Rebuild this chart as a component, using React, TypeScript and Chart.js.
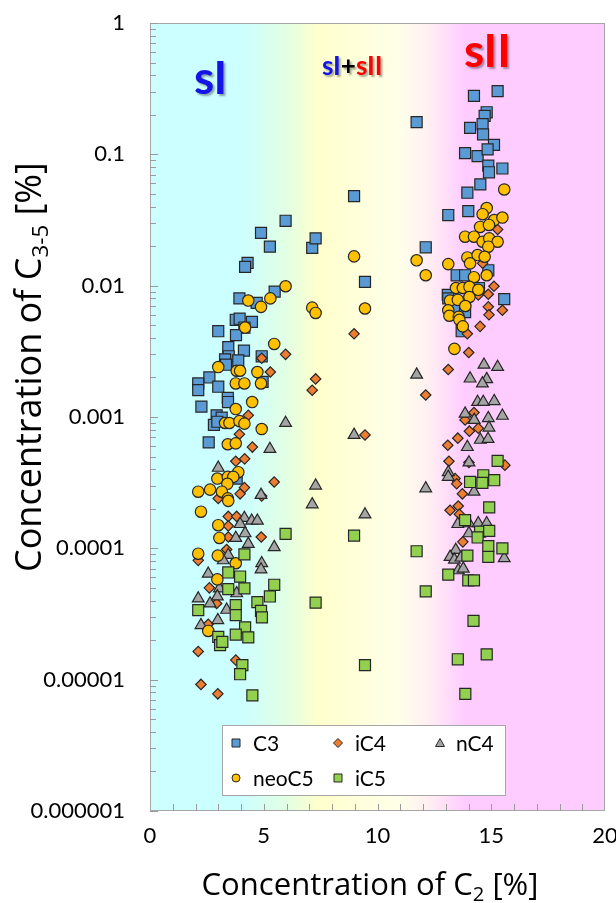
import React, { useEffect, useRef } from 'react';
import { Chart, registerables } from 'chart.js';
Chart.register(...registerables);

const FONT = 'Lato, "Open Sans", sans-serif';
const TITLE_FONT = '"Open Sans", Lato, sans-serif';

// ---- data (x: C2 %, y: C3-5 %) ----
const c3X = [5.96,4.88,5.27,4.29,4.18,5.48,3.93,4.69,3.77,3.94,4.48,4.15,3.00,3.78,3.44,4.13,3.46,4.91,3.88,3.30,3.34,2.61,2.12,2.12,3.00,4.95,3.42,2.26,3.43,2.93,3.15,2.81,2.96,2.58,3.81,
  7.13,7.28,8.97,9.45,12.12,11.72,
  15.28,14.24,14.80,14.71,14.07,14.62,14.64,15.12,13.85,14.40,14.84,14.87,15.49,14.90,14.52,13.95,13.99,13.11,13.48,13.85,14.87,14.46,13.09,13.11,15.57,13.41,13.85,13.70];
const c3Y = [0.0312,0.0252,0.0198,0.0149,0.0139,0.0090,0.0080,0.0074,0.0055,0.0056,0.0053,0.0048,0.0045,0.0042,0.0034,0.0032,0.0029,0.0029,0.0027,0.00275,0.0025,0.0020,0.0018,0.0016,0.0017,0.00185,0.0014,0.0012,0.0013,0.00103,0.00099,0.00087,0.00092,0.00064,0.00034,
  0.0194,0.0229,0.048,0.0107,0.0196,0.176,
  0.303,0.279,0.209,0.196,0.159,0.170,0.142,0.118,0.102,0.097,0.109,0.082,0.078,0.073,0.059,0.051,0.037,0.0345,0.0120,0.0120,0.0131,0.0096,0.0085,0.0080,0.0079,0.0068,0.0063,0.0045];

const iC4X = [5.96,4.91,5.29,4.32,3.93,4.50,3.77,4.16,5.46,4.15,3.96,3.00,4.91,3.44,3.81,3.44,3.44,4.89,3.37,2.12,2.61,2.93,2.56,2.12,3.77,2.24,2.98,
  7.28,7.13,8.97,9.45,12.12,
  15.28,14.62,15.12,14.87,14.43,14.87,14.90,15.49,14.51,13.95,14.01,13.11,14.24,13.85,14.04,14.43,13.53,13.09,13.14,14.02,15.60,13.41,13.48,13.73,13.19,13.55,13.60,13.75];
const iC4Y = [0.0030,0.0028,0.0022,0.00103,0.00074,0.00059,0.00046,0.00048,0.00032,0.00029,0.00026,0.00024,0.00025,0.000175,0.000175,0.000148,0.000122,0.000122,0.000098,0.000081,0.00005,0.000038,0.0000264,0.0000164,0.0000141,0.0000092,0.0000078,
  0.00195,0.0016,0.0043,0.00073,0.00147,
  0.0268,0.0148,0.0099,0.0086,0.0085,0.0069,0.0060,0.0065,0.0049,0.0043,0.0031,0.0023,0.00108,0.00095,0.00078,0.00082,0.00069,0.00061,0.00046,0.00045,0.00043,0.00034,0.00031,0.00026,0.000195,0.00021,0.000182,0.000112];

const nC4X = [5.96,5.27,3.00,4.88,4.15,4.47,4.72,3.96,3.77,4.18,4.32,5.46,3.44,3.22,4.91,4.88,2.56,3.05,3.81,2.12,2.64,2.96,3.37,2.24,2.98,
  7.13,7.28,8.97,9.45,11.72,12.12,
  14.68,15.28,14.07,14.80,14.61,14.40,14.65,15.13,13.85,14.25,14.87,15.49,14.90,14.52,14.86,13.95,14.02,13.11,13.11,14.24,13.53,14.02,14.43,14.80,14.02,13.44,13.19,13.38,13.67,13.55,13.77,15.57];
const nC4Y = [0.00090,0.00057,0.00041,0.000255,0.00017,0.000162,0.000162,0.000153,0.00012,0.00013,0.000108,0.000102,0.000089,0.000081,0.000077,0.000069,0.000064,0.0000495,0.0000454,0.0000415,0.000038,0.000043,0.000034,0.000026,0.0000284,
  0.000216,0.0003,0.00073,0.000181,0.0021,0.000286,
  0.0025,0.0024,0.00196,0.00194,0.0018,0.0013,0.0013,0.00132,0.00106,0.00095,0.00098,0.00102,0.00083,0.00067,0.00068,0.00059,0.00045,0.00038,0.00035,0.00027,0.000153,0.000155,0.000155,0.000155,0.00013,0.000097,0.000086,0.000082,0.000085,0.000068,0.00007,0.000084];

const neoC5X = [5.96,4.32,4.88,5.29,4.18,5.46,3.00,3.81,3.96,4.72,3.77,4.15,4.88,4.49,3.77,3.30,3.49,3.93,4.15,4.91,3.42,3.77,3.88,2.96,3.42,3.66,3.40,2.12,2.64,3.16,3.42,3.44,2.24,3.00,3.05,2.12,2.98,3.77,2.96,2.56,
  7.13,7.28,8.97,9.45,11.72,12.12,13.11,
  15.57,14.80,14.62,15.13,15.49,14.51,14.90,13.85,14.24,14.62,14.91,15.28,14.87,13.95,14.40,14.71,14.07,14.80,14.24,13.45,13.75,14.04,14.43,13.19,13.53,14.04,13.86,13.11,13.16,13.57,13.60,13.75,13.38];
const neoC5Y = [0.0099,0.0077,0.0069,0.0080,0.0048,0.0036,0.0024,0.00225,0.00225,0.0022,0.0018,0.0018,0.0018,0.0013,0.00115,0.00090,0.00090,0.00093,0.00089,0.00081,0.00062,0.00063,0.00038,0.00034,0.00035,0.00035,0.00031,0.00027,0.00028,0.00027,0.00024,0.00023,0.00019,0.00015,0.00012,0.000091,0.000088,0.000077,0.000058,0.0000235,
  0.0068,0.0062,0.0167,0.0067,0.0156,0.0120,0.0146,
  0.054,0.039,0.035,0.0316,0.033,0.028,0.029,0.0236,0.0236,0.0216,0.0229,0.0216,0.0198,0.0164,0.0171,0.0166,0.0148,0.0120,0.0116,0.0096,0.0096,0.0098,0.0093,0.0077,0.0078,0.0082,0.0070,0.0065,0.0059,0.0058,0.0055,0.0049,0.0033];

const iC5X = [5.96,4.15,3.44,3.96,4.15,3.44,5.46,5.27,4.72,4.88,4.92,2.12,3.77,3.77,4.18,4.32,3.77,3.00,3.08,4.06,3.96,4.50,3.18,
  7.28,8.97,11.72,12.12,9.45,
  15.28,14.07,14.65,14.61,15.13,14.91,13.85,14.51,14.40,14.91,14.87,15.49,13.95,14.87,13.11,13.99,14.24,14.22,13.53,14.80,13.86];
const iC5Y = [0.000129,0.000090,0.0000655,0.000061,0.0000495,0.0000489,0.0000528,0.000043,0.0000389,0.0000334,0.0000298,0.0000338,0.000037,0.000031,0.000025,0.000021,0.000022,0.0000212,0.0000183,0.0000129,0.000011,0.0000076,0.0000194,
  0.0000386,0.000125,0.000095,0.000047,0.0000129,
  0.000464,0.00032,0.00036,0.000315,0.00033,0.000205,0.000164,0.000134,0.000121,0.000136,0.000104,0.0001,0.000088,0.000086,0.000063,0.000057,0.000057,0.000028,0.0000143,0.0000156,0.0000078];

const X_TICKS = [0, 5, 10, 15, 20];
const SERIES = ['C3', 'iC4', 'nC4', 'neoC5', 'iC5'];

const COLORS: Record<string, string> = {
  C3: '#5B9BD5', iC4: '#ED7D31', nC4: '#A5A5A5', neoC5: '#FFC000', iC5: '#92D050',
};
const EDGE = '#262626';

function pts(xs: number[], ys: number[]) {
  return xs.map((x, i) => ({ x, y: ys[i] }));
}

function drawMarker(ctx: CanvasRenderingContext2D, kind: string, x: number, y: number, s: number, fill: string) {
  ctx.save();
  ctx.fillStyle = fill;
  ctx.strokeStyle = EDGE;
  ctx.lineWidth = 1;
  ctx.beginPath();
  if (kind === 'rect') {
    ctx.rect(x - s / 2, y - s / 2, s, s);
  } else if (kind === 'rectRot') {
    ctx.moveTo(x, y - s / 2); ctx.lineTo(x + s / 2, y); ctx.lineTo(x, y + s / 2); ctx.lineTo(x - s / 2, y); ctx.closePath();
  } else if (kind === 'triangle') {
    ctx.moveTo(x, y - s / 2); ctx.lineTo(x + s / 2, y + s / 2 - 1); ctx.lineTo(x - s / 2, y + s / 2 - 1); ctx.closePath();
  } else {
    ctx.arc(x, y, s / 2, 0, Math.PI * 2);
  }
  ctx.fill();
  ctx.stroke();
  ctx.restore();
}

const bgPlugin = {
  id: 'bgGrad',
  beforeDraw(chart: any) {
    const { ctx, chartArea: a } = chart;
    ctx.save();
    ctx.fillStyle = '#ffffff';
    ctx.fillRect(0, 0, chart.width, chart.height);
    const g = ctx.createLinearGradient(a.left, 0, a.right, 0);
    g.addColorStop(0, '#CCFFFF');
    g.addColorStop(0.2, '#CCFFFF');
    g.addColorStop(0.3, '#E2FFE4');
    g.addColorStop(0.37, '#FFFFCC');
    g.addColorStop(0.55, '#FFFFEA');
    g.addColorStop(0.615, '#FFEEF2');
    g.addColorStop(0.69, '#FFCCFF');
    g.addColorStop(1, '#FFCCFF');
    ctx.fillStyle = g;
    ctx.fillRect(a.left, a.top, a.right - a.left, a.bottom - a.top);
    ctx.restore();
  },
  beforeDatasetsDraw(chart: any) {
    const { ctx, chartArea: a, scales } = chart;
    const xs = scales.x, ys = scales.y;
    ctx.save();
    ctx.strokeStyle = '#A6A6A6';
    ctx.lineWidth = 1;
    ctx.strokeRect(a.left + 0.5, a.top + 0.5, a.right - a.left - 1, a.bottom - a.top - 1);
    ctx.strokeStyle = '#9A9A9A';
    ctx.beginPath();
    for (let e = -6; e <= 0; e++) {
      for (let m = 1; m <= 9; m++) {
        const v = m * Math.pow(10, e);
        if (v > 1.0000001) break;
        const py = Math.round(ys.getPixelForValue(v)) + 0.5;
        const len = m === 1 ? 8 : 6;
        ctx.moveTo(a.left, py);
        ctx.lineTo(a.left + len, py);
      }
    }
    for (let v = 1; v < 20; v++) {
      const px = Math.round(xs.getPixelForValue(v)) + 0.5;
      ctx.moveTo(px, a.bottom);
      ctx.lineTo(px, a.bottom - 7);
    }
    ctx.stroke();
    ctx.restore();
  },
};

// draw text with a subscript part, centered at origin, fitted to a target width
function drawSubText(ctx: CanvasRenderingContext2D, parts: { t: string; sub?: boolean }[], targetW: number, subRatio: number, dropRatio: number) {
  const base = 100;
  let w = 0;
  for (const p of parts) {
    ctx.font = `${p.sub ? base * subRatio : base}px ${TITLE_FONT}`;
    w += ctx.measureText(p.t).width;
  }
  const size = base * targetW / w;
  let x = -targetW / 2;
  for (const p of parts) {
    const fs = p.sub ? size * subRatio : size;
    ctx.font = `${fs}px ${TITLE_FONT}`;
    ctx.fillText(p.t, x, p.sub ? size * dropRatio : 0);
    x += ctx.measureText(p.t).width;
  }
}

const textPlugin = {
  id: 'texts',
  afterDraw(chart: any) {
    const { ctx } = chart;
    ctx.save();
    ctx.fillStyle = '#000';
    ctx.textBaseline = 'alphabetic';
    ctx.textAlign = 'left';
    // x title
    ctx.save();
    ctx.translate(370, 895);
    drawSubText(ctx, [{ t: 'Concentration of C' }, { t: '2', sub: true }, { t: ' [%]' }], 337, 0.65, 0.2);
    ctx.restore();
    // y title
    ctx.save();
    ctx.translate(41, 367);
    ctx.rotate(-Math.PI / 2);
    drawSubText(ctx, [{ t: 'Concentration of C' }, { t: '3-5', sub: true }, { t: ' [%]' }], 410, 0.62, 0.2);
    ctx.restore();

    // region annotations
    ctx.save();
    ctx.shadowColor = 'rgba(0,0,0,0.35)';
    ctx.shadowOffsetX = 2;
    ctx.shadowOffsetY = 2;
    ctx.shadowBlur = 2;
    ctx.font = `bold 46px ${FONT}`;
    ctx.fillStyle = '#1414E6';
    ctx.fillText('sI', 194, 94);
    ctx.fillStyle = '#FF0000';
    ctx.fillText('sII', 464, 67);
    ctx.font = `bold 26px ${FONT}`;
    let x = 322;
    ctx.fillStyle = '#1414E6';
    ctx.fillText('sI', x, 74.5); x += ctx.measureText('sI').width;
    ctx.fillStyle = '#000';
    ctx.fillText('+', x, 74.5); x += ctx.measureText('+').width;
    ctx.fillStyle = '#FF0000';
    ctx.fillText('sII', x, 74.5);
    ctx.restore();

    // legend
    ctx.save();
    ctx.fillStyle = '#ffffff';
    ctx.fillRect(222.5, 725.5, 283, 70);
    ctx.strokeStyle = '#A6A6A6';
    ctx.lineWidth = 1;
    ctx.strokeRect(222.5, 725.5, 283, 70);
    const items = [
      { name: SERIES[0], kind: 'rect', mx: 236, tx: 253, y: 743, s: 8 },
      { name: SERIES[1], kind: 'rectRot', mx: 338, tx: 355, y: 743, s: 9 },
      { name: SERIES[2], kind: 'triangle', mx: 440, tx: 456, y: 743, s: 9 },
      { name: SERIES[3], kind: 'circle', mx: 236, tx: 253, y: 778, s: 8 },
      { name: SERIES[4], kind: 'rect', mx: 338, tx: 355, y: 778, s: 8 },
    ];
    ctx.font = `21px ${FONT}`;
    ctx.textBaseline = 'middle';
    for (const it of items) {
      drawMarker(ctx, it.kind, it.mx, it.y, it.s, COLORS[it.name]);
      ctx.fillStyle = '#000';
      ctx.fillText(it.name, it.tx, it.y + 1);
    }
    ctx.restore();
    ctx.restore();
  },
};

export default function App() {
  const ref = useRef<HTMLCanvasElement>(null);
  useEffect(() => {
    document.body.style.margin = '0';
    const common = { borderColor: EDGE, borderWidth: 1.2, showLine: false };
    const chart = new Chart(ref.current!, {
      type: 'scatter',
      data: {
        datasets: [
          { label: 'C3', data: pts(c3X, c3Y), pointStyle: 'rect', pointRadius: 7.8, backgroundColor: COLORS.C3, order: 5, ...common },
          { label: 'iC4', data: pts(iC4X, iC4Y), pointStyle: 'rectRot', pointRadius: 5.2, backgroundColor: COLORS.iC4, order: 4, ...common },
          { label: 'nC4', data: pts(nC4X, nC4Y), pointStyle: 'triangle', pointRadius: 6.8, backgroundColor: COLORS.nC4, order: 3, ...common },
          { label: 'neoC5', data: pts(neoC5X, neoC5Y), pointStyle: 'circle', pointRadius: 5.7, backgroundColor: COLORS.neoC5, order: 2, ...common },
          { label: 'iC5', data: pts(iC5X, iC5Y), pointStyle: 'rect', pointRadius: 7.8, backgroundColor: COLORS.iC5, order: 1, ...common },
        ] as any,
      },
      options: {
        responsive: false,
        animation: false,
        devicePixelRatio: 1,
        events: [],
        layout: { padding: { top: 23, right: 11, left: 0, bottom: 0 } },
        plugins: { legend: { display: false }, tooltip: { enabled: false } },
        scales: {
          x: {
            type: 'linear', min: 0, max: 20, position: 'bottom',
            afterBuildTicks: (s: any) => { s.ticks = X_TICKS.map((v) => ({ value: v })); },
            ticks: { font: { family: FONT, size: 22 }, color: '#000', padding: 12, maxRotation: 0, autoSkip: false },
            grid: { display: false, drawTicks: false },
            border: { display: false },
            afterFit: (s: any) => { s.height = 92; s.paddingLeft = 0; s.paddingRight = 0; },
          },
          y: {
            type: 'logarithmic', min: 1e-6, max: 1,
            ticks: {
              autoSkip: false,
              font: { family: FONT, size: 22 }, color: '#000', padding: 25,
              callback: (value: any) => {
                const v = Number(value);
                const e = Math.log10(v);
                const r = Math.round(e);
                if (Math.abs(e - r) > 1e-6) return '';
                return r >= 0 ? String(Math.pow(10, r)) : Math.pow(10, r).toFixed(-r);
              },
            },
            grid: { display: false, drawTicks: false },
            border: { display: false },
            afterFit: (s: any) => { s.width = 150; s.paddingTop = 0; s.paddingBottom = 0; },
          },
        },
      } as any,
      plugins: [bgPlugin, textPlugin],
    });
    return () => chart.destroy();
  }, []);
  return (
    <div style={{ position: 'absolute', left: 0, top: 0, width: 616, height: 903 }}>
      <canvas ref={ref} width={616} height={903} style={{ display: 'block' }} />
    </div>
  );
}
